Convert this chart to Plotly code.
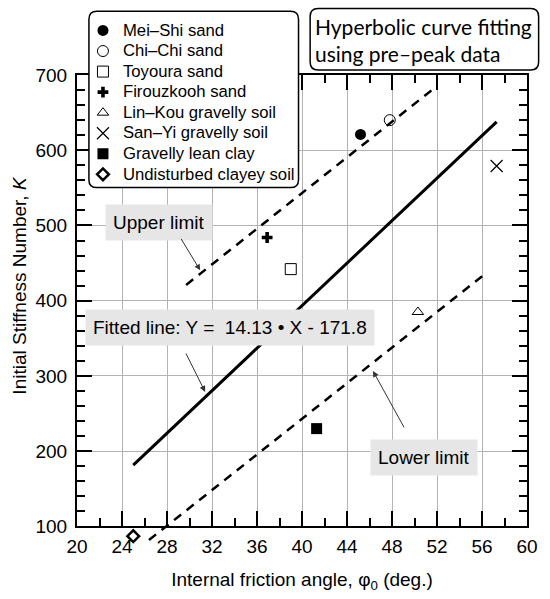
import plotly.graph_objects as go

# ── values ──
soil_names = ["Mei–Shi sand", "Chi–Chi sand", "Toyoura sand", "Firouzkooh sand",
              "Lin–Kou gravelly soil", "San–Yi gravelly soil", "Gravelly lean clay",
              "Undisturbed clayey soil"]
phi0 = [45.2, 47.8, 39.0, 36.9, 50.3, 57.3, 41.3, 25.0]
stiffness_k = [621, 640, 442, 484, 385, 579, 230, 87]

fit_x = [25.0, 57.3]
fit_y = [181.5, 637.8]
upper_x = [29.7, 51.8]
upper_y = [421, 683]
lower_x = [26.4, 56.3]
lower_y = [82, 436]

x_ticks = list(range(20, 61, 4))
y_ticks = list(range(100, 701, 100))

# ── styling ──
W, H = 550, 599
ML, MR, MT, MB = 77, 20, 75, 48.35
FONT = "Arial, Liberation Sans, sans-serif"
symbols = ["circle", "circle-open", "square-open", "cross", "triangle-up-open",
           "x-thin-open", "square", "diamond-open"]
sizes = [11, 11, 11, 9, 10, 12, 11, 9]
line_w = [0, 1, 1, 0, 1, 1.2, 0, 2.5]

PW = W - ML - MR
PH = H - MT - MB
Y_LOW = 70  # overlay axis reaches a bit below the frame so marks may spill out
main_bottom = (100 - Y_LOW) / (700 - Y_LOW)


def px_x(p):
    return (p - ML) / PW


def px_y(p):
    return (H - MB - p) / PH


def rounded_box(x0, y0, x1, y1, r=8):
    # pixel coords (y down) -> paper path with rounded corners
    a, b, c, d = px_x(x0), px_x(x1), px_y(y0), px_y(y1)
    rx, ry = r / PW, r / PH
    return (f"M {a+rx},{c} L {b-rx},{c} Q {b},{c} {b},{c-ry} "
            f"L {b},{d+ry} Q {b},{d} {b-rx},{d} L {a+rx},{d} Q {a},{d} {a},{d+ry} "
            f"L {a},{c-ry} Q {a},{c} {a+rx},{c} Z")


fig = go.Figure()

for i, name in enumerate(soil_names):
    on_overlay = i == len(soil_names) - 1
    fig.add_trace(go.Scatter(
        x=[phi0[i]], y=[stiffness_k[i]], mode="markers",
        name=f'<span style="font-size:16.7px">{name}</span>',
        marker=dict(symbol=symbols[i], size=sizes[i], color="black",
                    line=dict(color="black", width=line_w[i])),
        cliponaxis=False,
        xaxis="x2" if on_overlay else "x", yaxis="y2" if on_overlay else "y",
    ))

fig.add_trace(go.Scatter(x=fit_x, y=fit_y, mode="lines", showlegend=False,
                         line=dict(color="black", width=3), xaxis="x2", yaxis="y2"))
for lx, ly in [(upper_x, upper_y), (lower_x, lower_y)]:
    fig.add_trace(go.Scatter(x=lx, y=ly, mode="lines", showlegend=False,
                             line=dict(color="black", width=2.5, dash="9px,7px"),
                             xaxis="x2", yaxis="y2"))

axis_common = dict(
    showline=True, linecolor="black", linewidth=2, mirror="allticks",
    ticks="inside", ticklen=15, tickwidth=1.5, tickcolor="black",
    showgrid=True, gridcolor="#b3b3b3", gridwidth=1, zeroline=False,
    tickfont=dict(family=FONT, size=19, color="black"),
)
fig.update_layout(
    width=W, height=H, autosize=False,
    margin=dict(l=ML, r=MR, t=MT, b=MB, pad=0),
    paper_bgcolor="white", plot_bgcolor="rgba(0,0,0,0)",
    font=dict(family=FONT, color="black"),
    xaxis=dict(range=[20, 60], tickvals=x_ticks, domain=[0, 1], anchor="y",
               minor=dict(dtick=2, ticks="inside", ticklen=8, tickwidth=1.5,
                          tickcolor="black", showgrid=False),
               title=dict(text="Internal friction angle, φ<sub>0</sub> (deg.)",
                          font=dict(size=19), standoff=16),
               ticklabelstandoff=2, **axis_common),
    yaxis=dict(range=[100, 700], tickvals=y_ticks, domain=[main_bottom, 1], anchor="x",
               minor=dict(dtick=20, ticks="inside", ticklen=8, tickwidth=1.5,
                          tickcolor="black", showgrid=False),
               ticklabelstandoff=4, **axis_common),
    xaxis2=dict(range=[20, 60], domain=[0, 1], anchor="y2", visible=False),
    yaxis2=dict(range=[Y_LOW, 700], domain=[0, 1], anchor="x2", visible=False),
    showlegend=True,
    legend=dict(x=px_x(83), y=px_y(15), xanchor="left", yanchor="top",
                bgcolor="rgba(0,0,0,0)", borderwidth=0,
                font=dict(family=FONT, size=13.5, color="black"),
                tracegroupgap=0, itemwidth=30),
)

fig.add_shape(type="path", path=rounded_box(89, 11, 300, 188), xref="paper", yref="paper",
              fillcolor="white", line=dict(color="black", width=1.5), layer="above")
fig.add_shape(type="path", path=rounded_box(311.7, 8.3, 541.7, 70), xref="paper", yref="paper",
              fillcolor="white", line=dict(color="black", width=1.5), layer="above")

fig.add_annotation(x=px_x(315), y=px_y(40), xref="paper", yref="paper",
                   xanchor="left", yanchor="middle", align="left", showarrow=False,
                   text="Hyperbolic curve fitting<br>using pre–peak data",
                   font=dict(family="Lato, Carlito, sans-serif", size=21, color="black"))

fig.add_annotation(x=px_x(19), y=px_y(286), xref="paper", yref="paper", textangle=-90,
                   xanchor="center", yanchor="middle",
                   showarrow=False, text="Initial Stiffness Number, <i>K</i>",
                   font=dict(size=19))

# labelled boxes and their pointer arrows
boxes = [
    ("Upper limit", 27.28, 504.0),
    ("Fitted line: Y =  14.13 • X - 171.8", 33.64, 364.9),
    ("Lower limit", 50.82, 191.4),
]
for txt, bx, by in boxes:
    fig.add_annotation(x=bx, y=by, xref="x", yref="y", text=txt, showarrow=False,
                       bgcolor="#e6e6e6", borderpad=7, font=dict(size=19))

arrows = [((29.18, 484.1), (30.95, 440.4)),
          ((29.62, 331.8), (31.39, 278.8)),
          ((49.14, 229.8), (46.31, 306.6))]
for (tx, ty), (hx, hy) in arrows:
    fig.add_annotation(x=hx, y=hy, xref="x", yref="y", ax=tx, ay=ty, axref="x", ayref="y",
                       text="", showarrow=True, arrowhead=2, arrowsize=1.2, arrowwidth=1,
                       arrowcolor="#333333")

fig.write_html("out.html", config={"displayModeBar": False},
               post_script="document.body.style.margin='0';")
